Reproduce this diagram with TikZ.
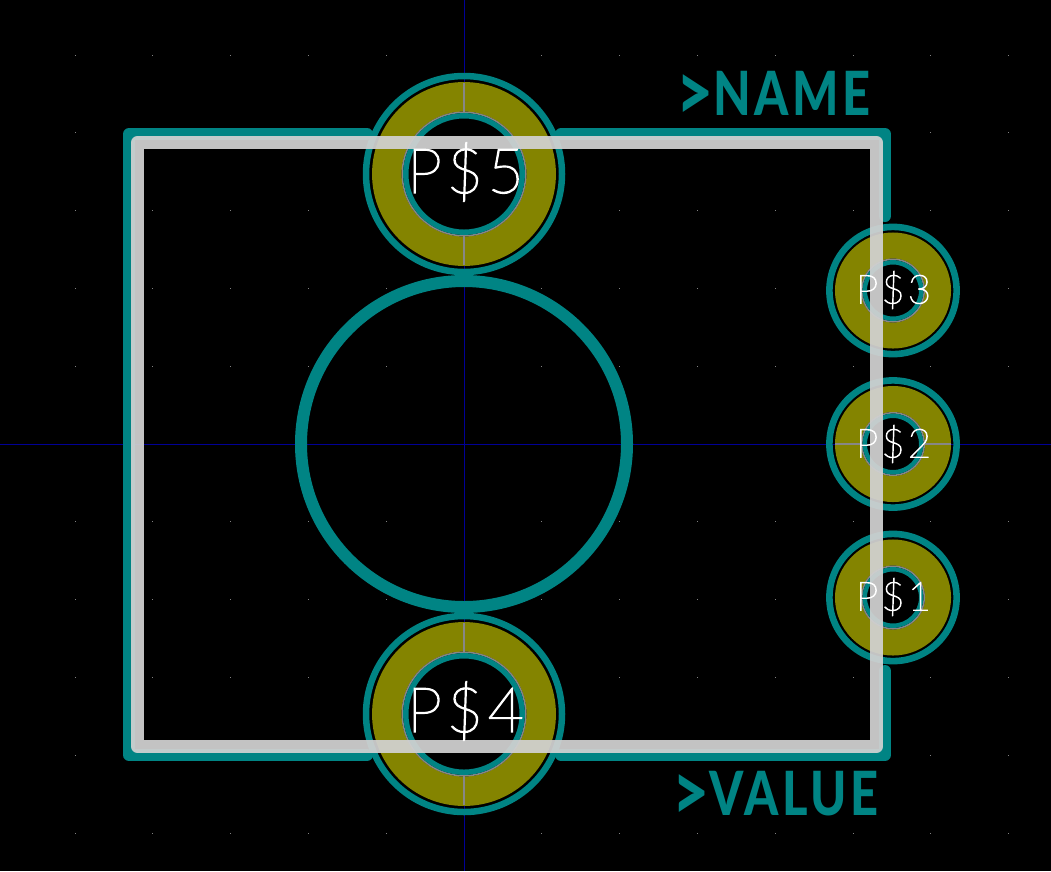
\documentclass[tikz,border=0pt]{standalone}
\usepackage{fontspec}
\usepackage{xcolor}
\usetikzlibrary{positioning}
\newfontfamily\padfont{Lato}[UprightFont=* Hairline, FakeBold=2.5, LetterSpace=8]
\newfontfamily\silkfont{Lato}[UprightFont=* Heavy, FakeStretch=0.8, LetterSpace=6]
\newcommand{\silkgt}{{\fontsize{80}{80}\selectfont\raisebox{-5pt}{>}}}
\definecolor{pcbteal}{RGB}{0,132,132}
\definecolor{pcbolive}{RGB}{132,132,0}
\definecolor{pcbblue}{RGB}{0,0,150}
\definecolor{pcbhole}{RGB}{135,135,135}
\definecolor{pcbsilk}{RGB}{210,210,210}
\definecolor{pcbdot}{RGB}{130,130,130}
\newcommand{\bigpad}[2]{%
    \draw[padring, line width=6.5pt] (#1,#2) circle[radius=98];
    \draw[padcopper, line width=29.5pt] (#1,#2) circle[radius=77.2];
    \fill[black] (#1,#2) circle[radius=61];
    \draw[padedge] (#1,#2) circle[radius=61.7];
    \draw[padring, line width=5.4pt] (#1,#2) circle[radius=58.2];
}
\newcommand{\smallpad}[2]{%
    \draw[padring, line width=6.6pt] (#1,#2) circle[radius=63.6];
    \draw[padcopper, line width=26pt] (#1,#2) circle[radius=45];
    \fill[black] (#1,#2) circle[radius=31];
    \draw[padedge] (#1,#2) circle[radius=31.2];
    \draw[padring, line width=4.4pt] (#1,#2) circle[radius=28.2];
}
\begin{document}
\begin{tikzpicture}[
    x=1pt, y=-1pt,
    padring/.style={draw=pcbteal},
    padcopper/.style={draw=pcbolive},
    padedge/.style={draw=pcbhole, line width=1.6pt},
    silk/.style={draw=pcbteal, line width=12pt, line cap=round, line join=round},
    fab/.style={draw=pcbsilk, line width=13pt, line join=round, opacity=0.93},
    axis/.style={draw=pcbblue, line width=0.9pt},
    padname/.style={text=white, inner sep=0pt, font=\padfont\fontsize{#1}{#1}\selectfont},
    reflabel/.style={text=pcbteal, inner sep=0pt, anchor=base west, font=\silkfont\fontsize{61}{61}\selectfont},
]
    \fill[black] (0,0) rectangle (1051,871);
    \useasboundingbox (0,0) rectangle (1051,871);

    % grid dots
    \foreach \i in {-5,...,7}
        \foreach \j in {-5,...,5}
            \fill[pcbdot] (464+77.8*\i-0.5,444+77.8*\j-0.5) rectangle ++(1,1);

    % axes
    \draw[axis] (0,444) -- (1051,444);
    \draw[axis] (464,0) -- (464,871);

    % courtyard
    \draw[silk] (367,134) -- (129,134) -- (129,755) -- (367,755);
    \draw[silk] (561,134) -- (885,134) -- (885,216);
    \draw[silk] (561,755) -- (885,755) -- (885,671);
    \draw[padring, line width=12pt] (464,444) circle[radius=163];

    % pads
    \bigpad{464}{174}
    \bigpad{464}{714}
    \smallpad{893}{290.5}
    \smallpad{893}{444}
    \smallpad{893}{597.5}
    \draw[padedge] (464,83) -- (464,112);
    \draw[padedge] (464,236) -- (464,265);
    \draw[padedge] (464,623) -- (464,652);
    \draw[padedge] (464,776) -- (464,805);
    \draw[padedge] (835,444) -- (862,444);
    \draw[padedge] (924,444) -- (951,444);

    % outline
    \draw[fab] (137.5,142.5) rectangle (876.5,746.5);

    % labels
    \node[padname=62] (padfive) at (465.5,172) {P\$5};
    \node[padname=62] (padfour) at (465.5,711) {P\$4};
    \node[padname=40] (padthree) at (893.5,290) {P\$3};
    \node[padname=40] (padtwo) at (893.5,444) {P\$2};
    \node[padname=40] (padone) at (893.5,597) {P\$1};
    \node[reflabel] (refname) at (676,115) {\silkgt NAME};
    \node[reflabel] (refvalue) at (672,815) {\silkgt VALUE};
\end{tikzpicture}
\end{document}
